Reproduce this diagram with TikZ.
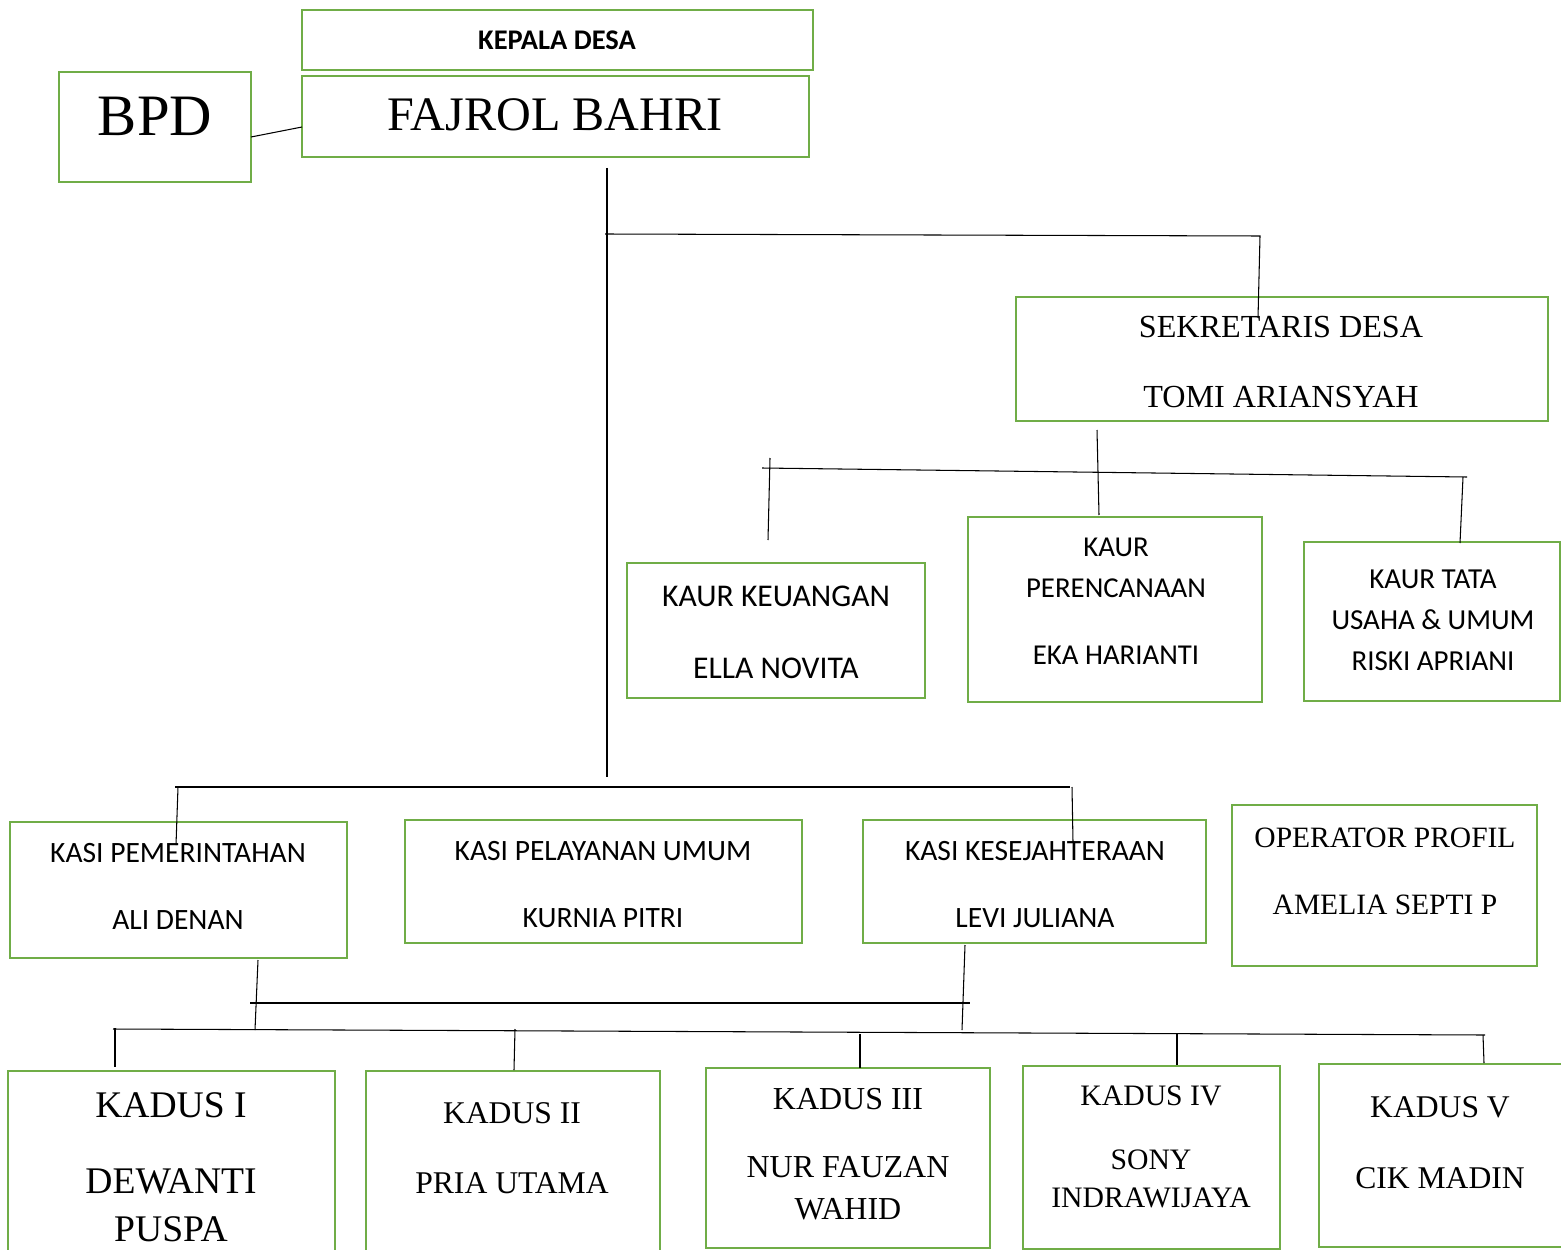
\documentclass[tikz,border=0pt]{standalone}
\usepackage{fontspec}
\setmainfont{Liberation Serif}
\setsansfont{Carlito}
\usetikzlibrary{fit}
\definecolor{grb}{HTML}{70AD47}
\newcommand{\ukuran}[2]{\fontsize{#1}{#2}\selectfont}
\tikzset{
    kotak/.style={draw=grb,line width=1.6pt,inner sep=0pt},
    garis/.style={black,line width=0.6pt},
    teks/.style={align=center,inner sep=0pt,text depth=0pt},
    sans/.style={teks,font=\sffamily\ukuran{16.8}{38}},
    serif/.style={teks,font=\rmfamily\ukuran{18}{40}}
}

\begin{document}
\begin{tikzpicture}[x=0.02cm,y=-0.02cm]
    \clip (0,0) rectangle (1561,1250);
    % kepala desa dan bpd
    \node [kotak,fit={(302,10) (813,70)}] (kepala) {};
    \node [teks,font=\sffamily\bfseries\ukuran{16.2}{19}] (kepala-t) at (557,40) {KEPALA DESA};
    \node [kotak,fit={(302,76) (809,157)}] (fajrol) {};
    \node [serif,font=\rmfamily\ukuran{27.4}{32}] (fajrol-t) at (555,115) {FAJROL BAHRI};
    \node [kotak,fit={(59,72) (251,182)}] (bpd) {};
    \node [serif,font=\rmfamily\ukuran{33.4}{36}] (bpd-t) at (155,116) {BPD};
    % sekretaris dan kaur
    \node [kotak,fit={(1016,297) (1548,421)}] (sekdes) {};
    \node [serif,font=\rmfamily\ukuran{18.3}{39.7}] (sekdes-t) at (1281,362) {SEKRETARIS DESA\\TOMI ARIANSYAH};
    \node [kotak,fit={(627,563) (925,698)}] (keu) {};
    \node [sans,font=\sffamily\ukuran{18}{40.8}] (keu-t) at (776,632) {KAUR KEUANGAN\\ELLA NOVITA};
    \node [kotak,fit={(968,517) (1262,702)}] (peren) {};
    \node [sans,font=\sffamily\ukuran{16.4}{23.2}] (peren-t) at (1116,601.5) {KAUR\\PERENCANAAN\\[15.3pt]EKA HARIANTI};
    \node [kotak,fit={(1304,542) (1560,701)}] (tata) {};
    \node [sans,font=\sffamily\ukuran{16.5}{23.2}] (tata-t) at (1433,620) {KAUR TATA\\USAHA \& UMUM\\RISKI APRIANI};
    % kasi dan operator
    \node [kotak,fit={(10,822) (347,958)}] (pem) {};
    \node [sans] (pem-t) at (178,886.5) {KASI PEMERINTAHAN\\ALI DENAN};
    \node [kotak,fit={(405,820) (802,943)}] (pel) {};
    \node [sans] (pel-t) at (603,884.5) {KASI PELAYANAN UMUM\\KURNIA PITRI};
    \node [kotak,fit={(863,820) (1206,943)}] (kes) {};
    \node [sans] (kes-t) at (1035,884.5) {KASI KESEJAHTERAAN\\LEVI JULIANA};
    \node [kotak,fit={(1232,805) (1537,966)}] (opr) {};
    \node [serif,font=\rmfamily\ukuran{16.8}{38}] (opr-t) at (1385,871.5) {OPERATOR PROFIL\\AMELIA SEPTI P};
    % kadus
    \node [kotak,fit={(8,1071) (335,1262)}] (kadus1) {};
    \node [serif,font=\rmfamily\ukuran{21.4}{27.2}] (kadus1-t) at (171,1167) {KADUS I\\[15.9pt]DEWANTI\\PUSPA};
    \node [kotak,fit={(366,1071) (660,1262)}] (kadus2) {};
    \node [serif] (kadus2-t) at (512,1148) {KADUS II\\PRIA UTAMA};
    \node [kotak,fit={(706,1068) (990,1248)}] (kadus3) {};
    \node [serif,font=\rmfamily\ukuran{18.2}{23.8}] (kadus3-t) at (848,1154) {KADUS III\\[14.7pt]NUR FAUZAN\\WAHID};
    \node [kotak,fit={(1023,1066) (1280,1249)}] (kadus4) {};
    \node [serif,font=\rmfamily\ukuran{16.9}{21.5}] (kadus4-t) at (1151,1146.5) {KADUS IV\\[15.3pt]SONY\\INDRAWIJAYA};
    \node [kotak,fit={(1319,1064) (1566,1247)}] (kadus5) {};
    \node [serif] (kadus5-t) at (1440,1142.5) {KADUS V\\CIK MADIN};
    % garis
    \coordinate (bpd-a) at (251,137);
    \coordinate (fajrol-a) at (302,127);
    \draw [garis] (bpd-a) -- (fajrol-a);
    \coordinate (trunk-a) at (607,168);
    \coordinate (trunk-b) at (607,777);
    \draw [garis] (trunk-a) -- (trunk-b);
    \coordinate (atas-a) at (605,234);
    \coordinate (atas-b) at (1260,236);
    \draw [garis] (atas-a) -- (atas-b) -- (1258,318);
    \coordinate (kaur-a) at (762,468);
    \coordinate (kaur-b) at (1467,477);
    \draw [garis] (kaur-a) -- (kaur-b);
    \draw [garis] (1097,430) -- (1099,515);
    \draw [garis] (770,458) -- (768,540);
    \draw [garis] (1463,477) -- (1460,543);
    \coordinate (kasi-a) at (175,787);
    \coordinate (kasi-b) at (1070,787);
    \draw [garis] (kasi-a) -- (kasi-b);
    \draw [garis] (178,787) -- (176,845);
    \draw [garis] (1072,787) -- (1073,842);
    \draw [garis] (258,960) -- (255,1030);
    \draw [garis] (965,945) -- (962,1030);
    \coordinate (tengah-a) at (250,1003);
    \coordinate (tengah-b) at (970,1003);
    \draw [garis] (tengah-a) -- (tengah-b);
    \coordinate (kadus-a) at (113,1029);
    \coordinate (kadus-b) at (1485,1035);
    \draw [garis] (kadus-a) -- (kadus-b);
    \foreach \xa/\ya/\xb/\yb in {115/1028/115/1067,515/1029/514/1070,860/1034/860/1068,1177/1033/1177/1065,1483/1035/1484/1063} {
        \draw [garis] (\xa,\ya) -- (\xb,\yb);
    }
\end{tikzpicture}
\end{document}
